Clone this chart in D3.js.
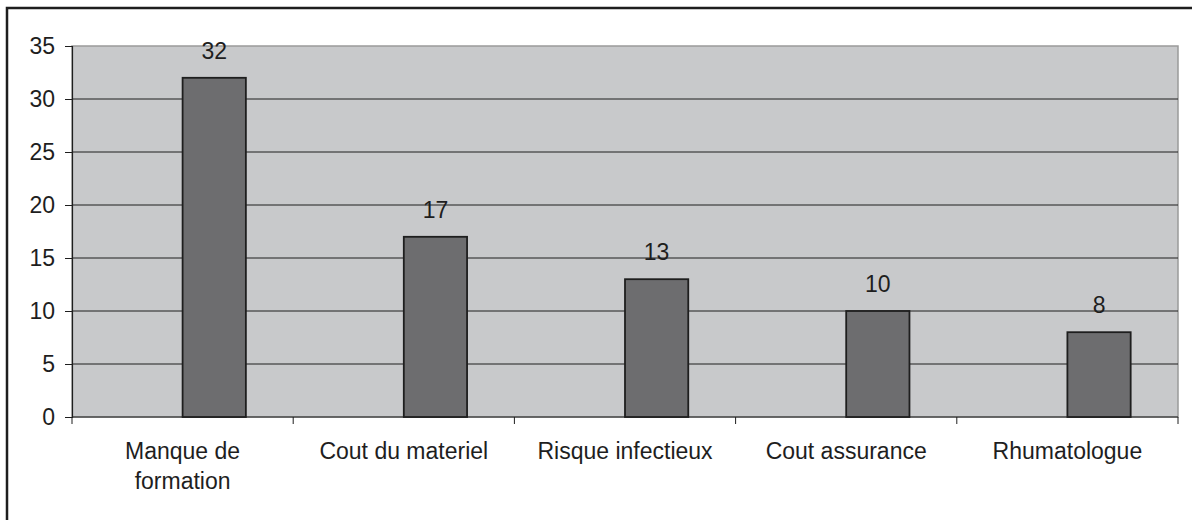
<!DOCTYPE html>
<html>
<head>
<meta charset="utf-8">
<script src="https://cdn.jsdelivr.net/npm/d3@7"></script>
<style>
body { margin: 0; background: #fff; }
text { font-family: "Liberation Sans", Arial, sans-serif; fill: #1e1e1e; }
</style>
</head>
<body>
<script>
// chart data
var categories = ["Manque de formation", "Cout du materiel", "Risque infectieux", "Cout assurance", "Rhumatologue"];
var labelLines = [["Manque de", "formation"], ["Cout du materiel"], ["Risque infectieux"], ["Cout assurance"], ["Rhumatologue"]];
var values = [32, 17, 13, 10, 8];
var yTicks = [0, 5, 10, 15, 20, 25, 30, 35];

var width = 1192,
	height = 520;

// plot area edges
var pLeft = 72, pRight = 1178, pTop = 46, pBottom = 417;
var fontSize = "23px";

var svg = d3.select("body").append("svg")
	.attr("width", width)
	.attr("height", height);

// outer frame (only left and top visible in the picture)
svg.append("path")
	.attr("d", "M7,530 L7,8 L1200,8")
	.attr("fill", "none")
	.attr("stroke", "#1e1e1e")
	.attr("stroke-width", 2.5);

var xScale = d3.scaleBand()
	.domain(categories)
	.range([pLeft, pRight])
	.padding(0);

var yScale = d3.scaleLinear()
	.domain([0, 35])
	.range([pBottom, pTop]);

// plot area
svg.append("rect")
	.attr("x", pLeft)
	.attr("y", pTop)
	.attr("width", pRight - pLeft)
	.attr("height", pBottom - pTop)
	.attr("fill", "#c8c9cb")
	.attr("stroke", "#9a9a9a")
	.attr("stroke-width", 1.5);

// gridlines
svg.selectAll(".grid")
	.data(yTicks.filter(function(d){ return d > 0 && d < 35; }))
	.enter()
	.append("line")
		.attr("class", "grid")
		.attr("x1", pLeft)
		.attr("x2", pRight)
		.attr("y1", function(d){ return yScale(d); })
		.attr("y2", function(d){ return yScale(d); })
		.attr("stroke", "#1e1e1e")
		.attr("stroke-width", 1);

// y axis
var yAxis = d3.axisLeft(yScale)
	.tickValues(yTicks)
	.tickSize(7)
	.tickPadding(10);

var gy = svg.append("g")
	.attr("transform", "translate(" + pLeft + ",0)")
	.call(yAxis);
gy.select(".domain").attr("stroke", "#1e1e1e").attr("stroke-width", 1.2);
gy.selectAll(".tick line").attr("stroke", "#1e1e1e");
gy.selectAll(".tick text")
	.style("font-size", fontSize)
	.style("font-family", "'Liberation Sans', Arial, sans-serif")
	.attr("fill", "#1e1e1e");

// x axis line and tick marks at category boundaries
svg.append("line")
	.attr("x1", pLeft)
	.attr("x2", pRight)
	.attr("y1", pBottom)
	.attr("y2", pBottom)
	.attr("stroke", "#1e1e1e")
	.attr("stroke-width", 1.2);

var bounds = categories.map(function(c){ return xScale(c); }).concat([pRight]);
svg.selectAll(".xtick")
	.data(bounds)
	.enter()
	.append("line")
		.attr("class", "xtick")
		.attr("x1", function(d){ return d; })
		.attr("x2", function(d){ return d; })
		.attr("y1", pBottom)
		.attr("y2", pBottom + 7)
		.attr("stroke", "#1e1e1e");

// bars sit in the right half of each category (empty first series)
var barW = xScale.bandwidth() * 0.286;

svg.selectAll(".bar")
	.data(values)
	.enter()
	.append("rect")
		.attr("class", "bar")
		.attr("x", function(d, i){ return xScale(categories[i]) + xScale.bandwidth() / 2; })
		.attr("y", function(d){ return yScale(d); })
		.attr("width", barW)
		.attr("height", function(d){ return yScale(0) - yScale(d); })
		.attr("fill", "#6d6d6f")
		.attr("stroke", "#1e1e1e")
		.attr("stroke-width", 1.8);

// value labels
svg.selectAll(".val")
	.data(values)
	.enter()
	.append("text")
		.attr("class", "val")
		.attr("x", function(d, i){ return xScale(categories[i]) + xScale.bandwidth() / 2 + barW / 2; })
		.attr("y", function(d){ return yScale(d) - 19; })
		.attr("text-anchor", "middle")
		.style("font-size", fontSize)
		.text(function(d){ return d; });

// category labels
var cat = svg.selectAll(".cat")
	.data(categories)
	.enter()
	.append("text")
		.attr("class", "cat")
		.attr("text-anchor", "middle")
		.style("font-size", fontSize);

cat.selectAll("tspan")
	.data(function(d, i){
		return labelLines[i].map(function(l){ return {line: l, x: xScale(d) + xScale.bandwidth() / 2}; });
	})
	.enter()
	.append("tspan")
		.attr("x", function(d){ return d.x; })
		.attr("y", function(d, j){ return 459 + j * 30; })
		.text(function(d){ return d.line; });
</script>
</body>
</html>
